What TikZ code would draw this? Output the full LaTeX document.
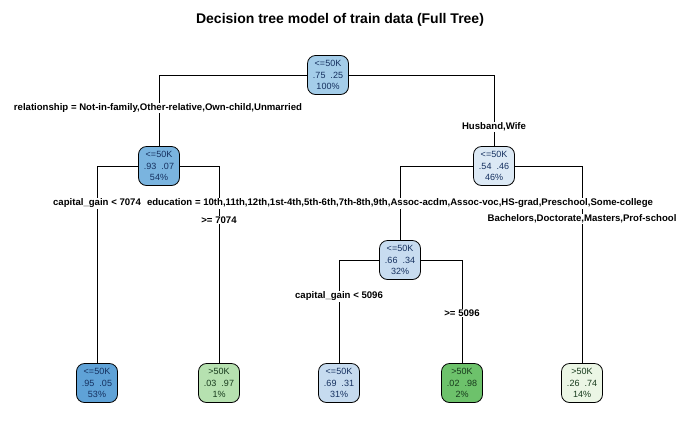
\documentclass[tikz,border=0pt]{standalone}
\usepackage{fontspec}
\setmainfont{Liberation Sans}

\definecolor{pRoot}{HTML}{A4CDE9}
\definecolor{pTwo}{HTML}{7AB4DF}
\definecolor{pThree}{HTML}{DCE9F5}
\definecolor{pSix}{HTML}{C8DCF0}
\definecolor{pLeafA}{HTML}{5FA2D7}
\definecolor{pLeafB}{HTML}{B6E1B0}
\definecolor{pLeafC}{HTML}{C6DBEF}
\definecolor{pLeafD}{HTML}{6DC26B}
\definecolor{pLeafE}{HTML}{EBF6E5}
\definecolor{lotext}{HTML}{15305F}
\definecolor{hitext}{HTML}{173A1C}

\tikzset{
	tnode/.style={draw, line width=0.8pt, rounded corners=8pt, align=center,
		minimum width=41pt, minimum height=39pt, inner sep=1pt,
		font=\fontsize{9}{11.5}\selectfont},
	lo/.style={tnode, fill=#1, text=lotext},
	hi/.style={tnode, fill=#1, text=hitext},
	split/.style={fill=white, inner sep=1pt, font=\bfseries\fontsize{9.6}{11}\selectfont},
}

\begin{document}
\begin{tikzpicture}[x=1pt, y=-1pt, line width=0.8pt]
			\useasboundingbox (0,0) rectangle (700,432);
			\node[font=\bfseries\fontsize{14}{16}\selectfont] (title) at (340,20) {Decision tree model of train data (Full Tree)};

			% inner nodes
			\node[lo=pRoot] (root) at (328,75) {<=50K\\.75\ \ .25\\100\%};
			\node[lo=pTwo] (n2) at (159,166) {<=50K\\.93\ \ .07\\54\%};
			\node[lo=pThree] (n3) at (494,166) {<=50K\\.54\ \ .46\\46\%};
			\node[lo=pSix] (n6) at (400,260) {<=50K\\.66\ \ .34\\32\%};

			% leaves
			\node[lo=pLeafA] (l1) at (97,383) {<=50K\\.95\ \ .05\\53\%};
			\node[hi=pLeafB] (l2) at (219,383) {>50K\\.03\ \ .97\\1\%};
			\node[lo=pLeafC] (l3) at (339,383) {<=50K\\.69\ \ .31\\31\%};
			\node[hi=pLeafD] (l4) at (462,383) {>50K\\.02\ \ .98\\2\%};
			\node[hi=pLeafE] (l5) at (582,383) {>50K\\.26\ \ .74\\14\%};

			\path[draw]
			(root) -| (n2)
			(root) -| (n3)
			(n2) -| (l1)
			(n2) -| (l2)
			(n3) -| (n6)
			(n3) -| (l5)
			(n6) -| (l3)
			(n6) -| (l4);

			% split labels
			\node[split] (s1) at (158,108) {relationship = Not-in-family,Other-relative,Own-child,Unmarried};
			\node[split] (s2) at (494,127) {Husband,Wife};
			\node[split] (s3) at (97,203) {capital\_gain < 7074};
			\node[split] (s4) at (219,220) {>= 7074};
			\node[split] (s5) at (400,203) {education = 10th,11th,12th,1st-4th,5th-6th,7th-8th,9th,Assoc-acdm,Assoc-voc,HS-grad,Preschool,Some-college};
			\node[split] (s6) at (582,219) {Bachelors,Doctorate,Masters,Prof-school};
			\node[split] (s7) at (339,296) {capital\_gain < 5096};
			\node[split] (s8) at (462,313) {>= 5096};
		\end{tikzpicture}
\end{document}
